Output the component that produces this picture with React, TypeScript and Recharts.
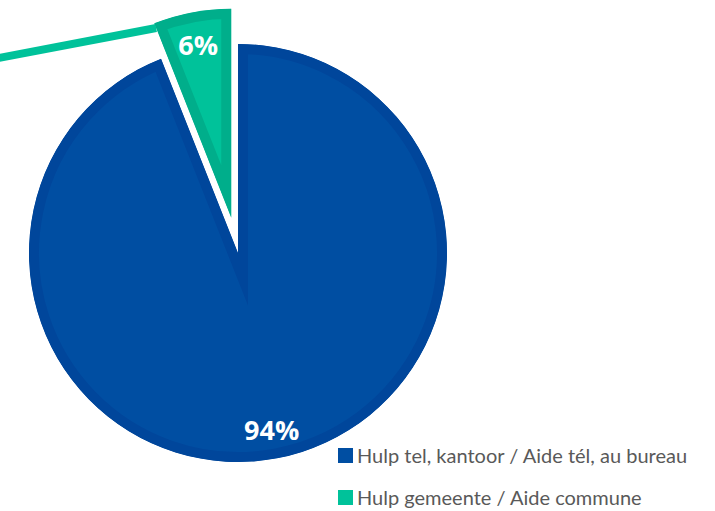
import React from 'react';
import { PieChart, Pie, Cell, Legend } from 'recharts';

const categories = ['Hulp tel, kantoor / Aide tél, au bureau', 'Hulp gemeente / Aide commune'];
const shares = [94, 6];
const fills = ['#004EA2', '#00C29A'];
const bands = ['#00469B', '#00AE8B'];

const data = categories.map((name, i) => ({ name, value: shares[i], fill: fills[i], band: bands[i] }));

const RAD = Math.PI / 180;
const EXPLODE = 36;

const polar = (cx: number, cy: number, r: number, angle: number) => ({
  x: cx + r * Math.cos(angle * RAD),
  y: cy - r * Math.sin(angle * RAD),
});

// sector with an inner border band (stroke clipped to the shape)
const BandSector = (props: any) => {
  const { cx, cy, outerRadius, startAngle, endAngle, midAngle, index, payload } = props;
  const shift = index === 1 ? EXPLODE : 0;
  const c = polar(cx, cy, shift, midAngle);
  const s = polar(c.x, c.y, outerRadius, startAngle);
  const e = polar(c.x, c.y, outerRadius, endAngle);
  const large = Math.abs(startAngle - endAngle) > 180 ? 1 : 0;
  const sweep = startAngle > endAngle ? 1 : 0;
  const d = `M${c.x},${c.y} L${s.x},${s.y} A${outerRadius},${outerRadius} 0 ${large} ${sweep} ${e.x},${e.y} Z`;
  const id = `clip-sector-${index}`;
  const fill = payload?.fill ?? props.fill;
  const band = payload?.band ?? props.fill;
  // leader line towards an off-canvas label for the exploded slice
  const ls = polar(c.x, c.y, outerRadius - 5, startAngle);
  const lineEnd = polar(ls.x, ls.y, 190, midAngle + 90);
  return (
    <g>
      <defs>
        <clipPath id={id}>
          <path d={d} />
        </clipPath>
      </defs>
      {index === 1 && (
        <line x1={ls.x} y1={ls.y} x2={lineEnd.x} y2={lineEnd.y} stroke={fill} strokeWidth={8} />
      )}
      <path d={d} fill={fill} stroke={band} strokeWidth={20} strokeLinejoin="miter" strokeMiterlimit={20} clipPath={`url(#${id})`} />
    </g>
  );
};

const renderLabel = (props: any) => {
  const { cx, cy, midAngle, outerRadius, index, value } = props;
  const shift = index === 1 ? EXPLODE : 0;
  const c = polar(cx, cy, shift, midAngle);
  const p = polar(c.x, c.y, outerRadius * (index === 1 ? 0.845 : 0.86), midAngle);
  return (
    <text
      x={p.x}
      y={p.y}
      fill="#ffffff"
      fontSize={27}
      fontWeight={700}
      fontFamily="'Open Sans', sans-serif"
      textAnchor="middle"
      dominantBaseline="central"
    >
      {`${value}%`}
    </text>
  );
};

const renderLegend = () => (
  <div style={{ fontFamily: "Lato, sans-serif", fontSize: 20, color: '#595959' }}>
    {data.map((d) => (
      <div key={d.name} style={{ display: 'flex', alignItems: 'center', height: 42 }}>
        <span style={{ display: 'inline-block', width: 15, height: 15, background: d.fill, marginRight: 4 }} />
        <span>{d.name}</span>
      </div>
    ))}
  </div>
);

export default function App() {
  return (
    <div style={{ position: 'absolute', left: 0, top: 0, width: 715, height: 511, background: '#ffffff' }}>
      <PieChart width={715} height={511} margin={{ top: 0, right: 0, bottom: 0, left: 0 }}>
        <Pie
          data={data}
          dataKey="value"
          nameKey="name"
          cx={238}
          cy={253}
          outerRadius={209}
          startAngle={90}
          endAngle={-270}
          stroke="none"
          shape={BandSector}
          label={renderLabel}
          labelLine={false}
          isAnimationActive={false}
        >
          {data.map((d) => (
            <Cell key={d.name} fill={d.fill} />
          ))}
        </Pie>
        <Legend
          content={renderLegend}
          wrapperStyle={{ position: 'absolute', left: 338, top: 434, width: 377 }}
        />
      </PieChart>
    </div>
  );
}
